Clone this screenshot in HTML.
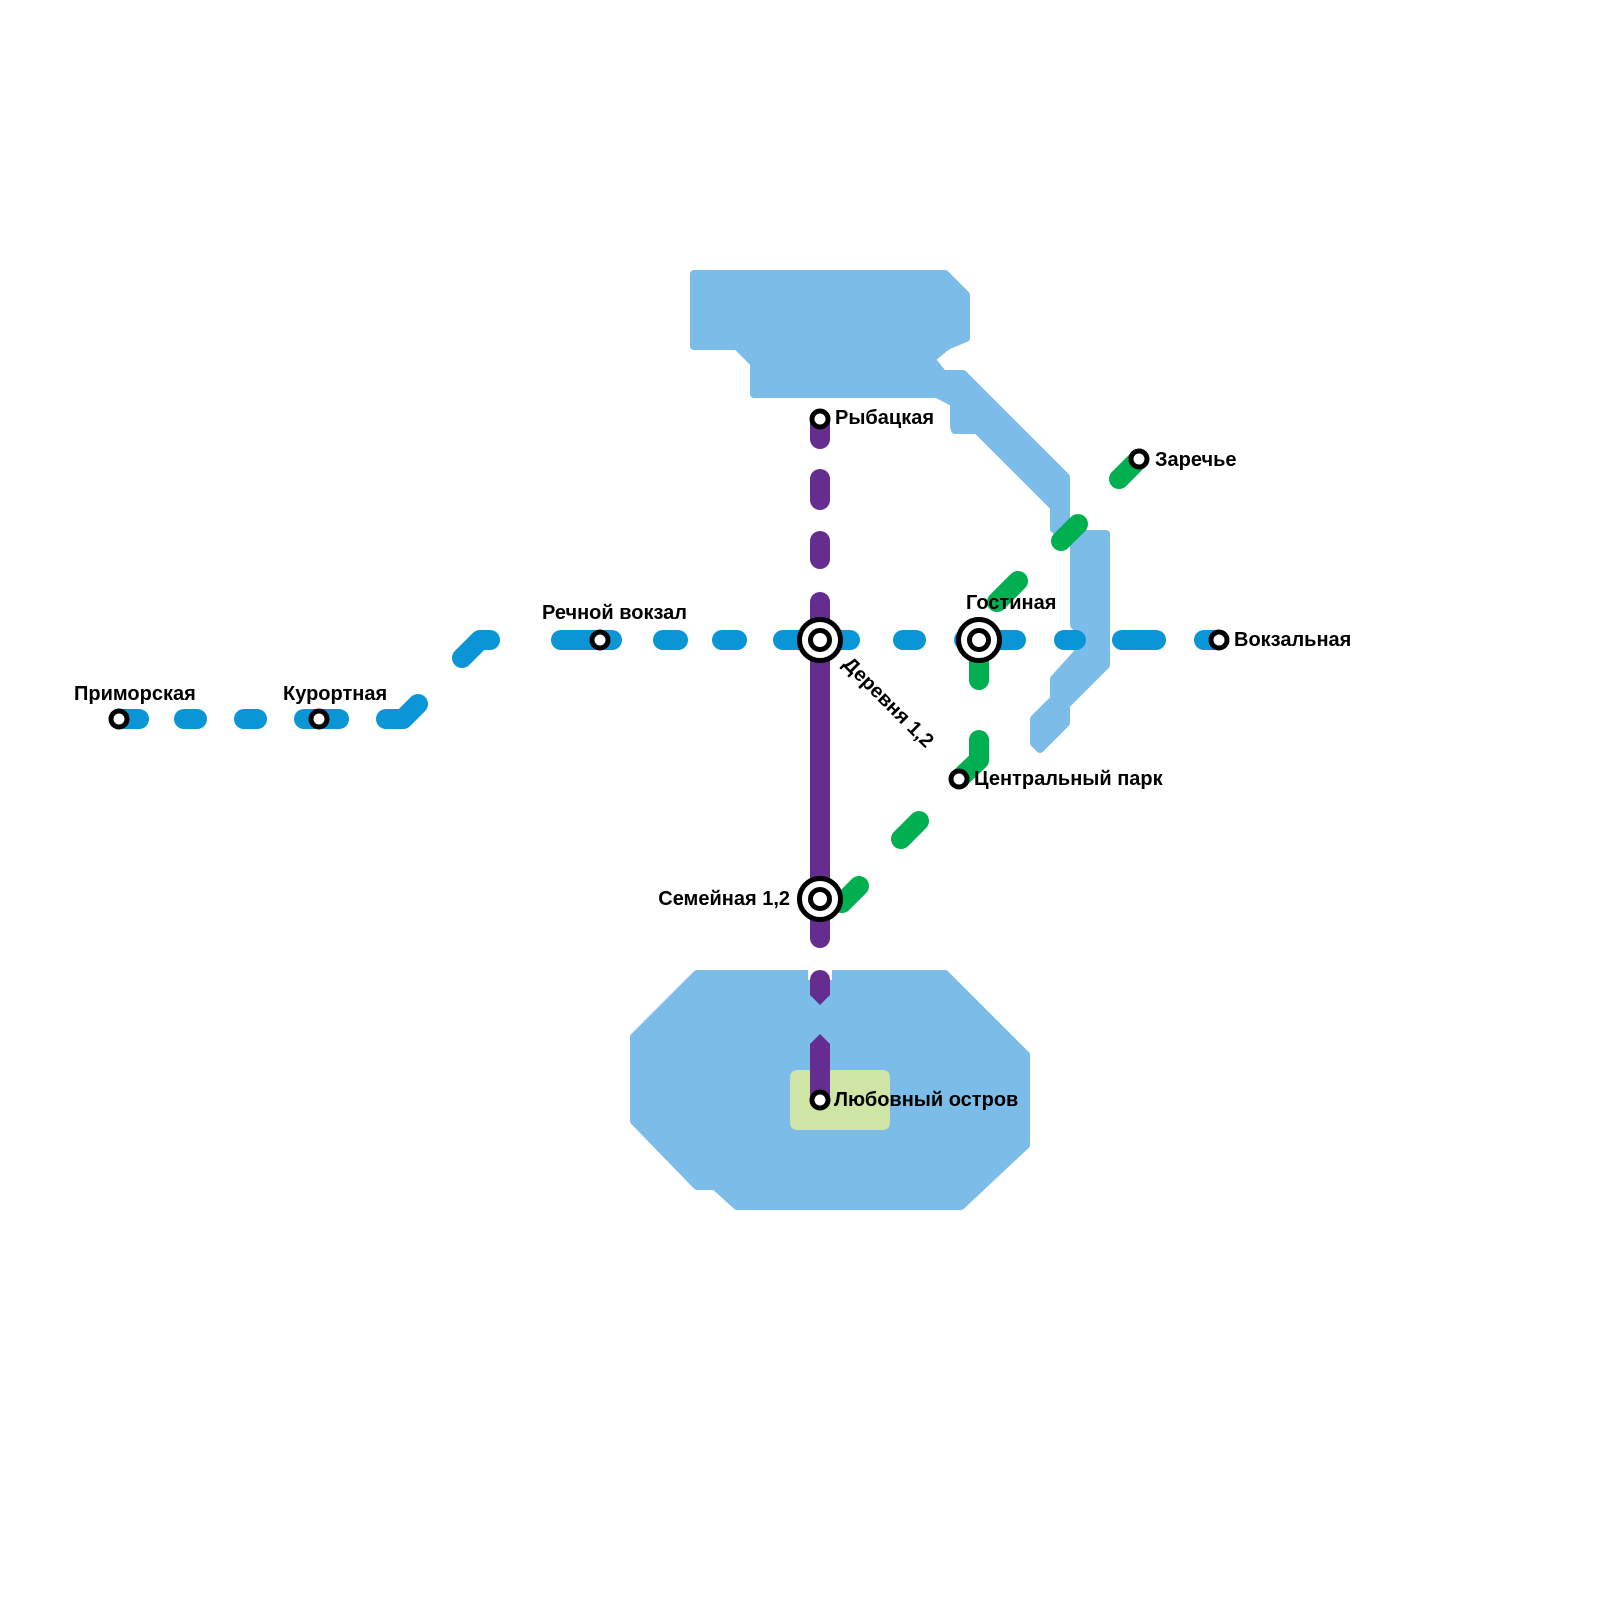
<!DOCTYPE html>
<html><head><meta charset="utf-8"><style>html,body{margin:0;padding:0;background:#fff}svg{display:block}text{font-family:"Liberation Sans",sans-serif;font-weight:bold;font-size:20px;fill:#000}</style></head>
<body>
<svg width="1600" height="1600" viewBox="0 0 1600 1600" xmlns="http://www.w3.org/2000/svg">
<g fill="#7bbde8" stroke="#7bbde8" stroke-width="8" stroke-linejoin="round">
<polygon points="694,274 945,274 966,295 966,338 947,346 931,359 943,374 963,374 1066,477 1066,534 1106,534 1106,665 1066,705 1066,723 1040,749 1034,743 1034,719 1054,699 1054,679 1089,640 1074,625 1074,544 1054,529 1054,507 977,430 955,430 954,427 954,403 937,394 754,394 754,363 737,346 694,346"/>
<polygon points="697,974 945,974 1026,1055 1026,1145 961,1206 737,1206 715,1186 697,1186 634,1121 634,1037"/>
</g>
<rect x="808" y="962" width="24" height="18" fill="#fff"/>
<rect x="790" y="1070" width="100" height="60" rx="7" fill="#cfe5a6"/>
<g stroke="#0a96d6" stroke-width="20" stroke-linecap="round" stroke-linejoin="round" fill="none">
<path d="M119 719H139M184 719H197M244 719H257M304 719H339M386 719H403L418 704M462 658L480 640H490M561 640H612M663 640H678M722 640H737M783 640H850M903 640H916M964 640H1016M1064 640H1076M1122 640H1156M1204 640H1219"/>
</g>
<g stroke="#00b050" stroke-width="20" stroke-linecap="round" stroke-linejoin="round" fill="none">
<path d="M1119 479L1139 459M1061 541L1078 524M997 602L1018 581M979 640V680M979 740V760L959 779M901 839L919 821M842 903L859 886"/>
</g>
<g stroke="#662d91" stroke-width="20" stroke-linecap="round" fill="none">
<path d="M820 419V439M820 479V500M820 541V559M820 602V938"/>
</g>
<g fill="#662d91">
<path d="M810 980A10 10 0 0 1 830 980V995L820 1005L810 995Z"/>
<path d="M820 1034L830 1044V1100H810V1044Z"/>
</g>
<g fill="#fff" stroke="#000" stroke-width="5">
<circle cx="820" cy="419" r="8"/><circle cx="1139" cy="459" r="8"/><circle cx="119" cy="719" r="8"/><circle cx="319" cy="719" r="8"/><circle cx="600" cy="640" r="8"/><circle cx="1219" cy="640" r="8"/><circle cx="959" cy="779" r="8"/><circle cx="820" cy="1100" r="8"/>
<circle cx="820" cy="640" r="20.5"/><circle cx="820" cy="640" r="9.5"/>
<circle cx="979" cy="640" r="20.5"/><circle cx="979" cy="640" r="9.5"/>
<circle cx="820" cy="899" r="20.5"/><circle cx="820" cy="899" r="9.5"/>
</g>
<text x="74" y="700">Приморская</text>
<text x="283" y="700">Курортная</text>
<text x="542" y="619">Речной вокзал</text>
<text x="835" y="424">Рыбацкая</text>
<text x="966" y="609">Гостиная</text>
<text x="1155" y="466">Заречье</text>
<text x="1234" y="646">Вокзальная</text>
<text x="974" y="785">Центральный парк</text>
<text x="790" y="905" text-anchor="end">Семейная 1,2</text>
<text x="834" y="1106">Любовный остров</text>
<text x="842" y="665" transform="rotate(45 842 665)">Деревня 1,2</text>
</svg>
</body></html>
